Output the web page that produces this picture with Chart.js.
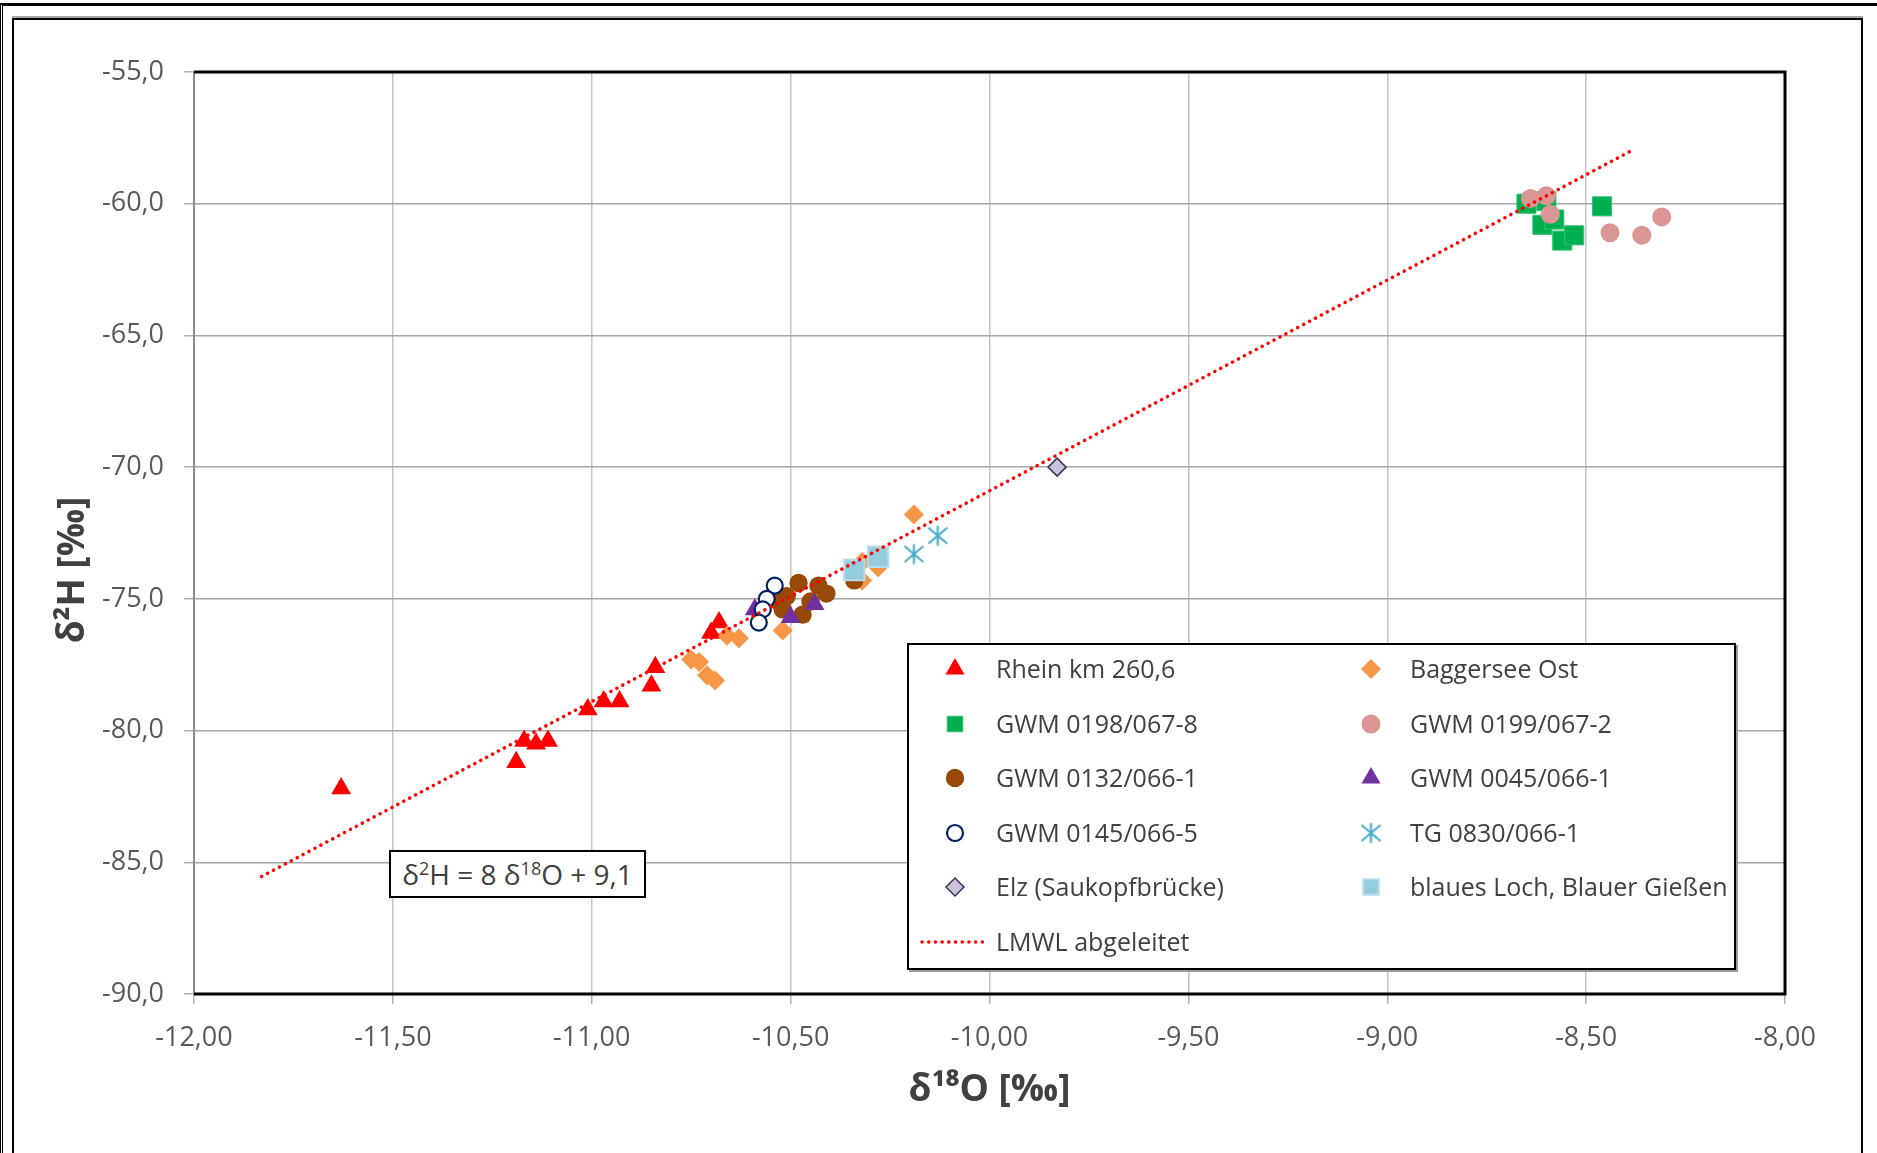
<!DOCTYPE html>
<html>
<head>
<meta charset="utf-8">
<title>δ2H / δ18O</title>
<script src="https://cdn.jsdelivr.net/npm/chart.js@4.4.0/dist/chart.umd.min.js"></script>
<style>
    body {
        margin: 0;
        width: 1877px;
        height: 1153px;
        overflow: hidden;
        position: relative;
        background: #fff;
        font-family: "Open Sans", sans-serif;
    }
    #isoChart {
        position: absolute;
        left: 0;
        top: 0;
        background: #fff;
    }
    .frame-outer {
        position: absolute;
        left: 0;
        top: 3px;
        width: 1877px;
        height: 1160px;
        border-top: 3px solid #000;
        border-left: 3px double #000;
        box-sizing: border-box;
    }
    .frame-inner {
        position: absolute;
        left: 12px;
        top: 18px;
        width: 1851px;
        height: 1160px;
        border: 2px solid #000;
        box-shadow: 0 -2px 0 #a6a6a6;
        box-sizing: border-box;
    }
    #legend {
        position: absolute;
        left: 907px;
        top: 643px;
        width: 829px;
        height: 327px;
        border: 2px solid #000;
        box-shadow: 2px 2px 0 #9a9a9a;
        background: #fff;
        box-sizing: border-box;
    }
    #legend canvas {
        position: absolute;
    }
    #legend span {
        position: absolute;
        font-size: 25px;
        color: #404040;
        line-height: 30px;
        white-space: nowrap;
    }
    .equation {
        position: absolute;
        left: 389px;
        top: 850px;
        width: 257px;
        height: 48px;
        border: 2px solid #000;
        background: #fff;
        box-sizing: border-box;
        font-size: 28px;
        color: #404040;
        line-height: 44px;
        text-align: center;
        white-space: nowrap;
    }
    .equation sup {
        font-size: 18px;
        line-height: 0;
    }
</style>
</head>
<body>
<canvas id="isoChart" width="1877" height="1153"></canvas>
<div class="frame-outer"></div>
<div class="frame-inner"></div>
<div id="legend"></div>
<div class="equation">δ<sup>2</sup>H = 8 δ<sup>18</sup>O + 9,1</div>

<script>
// Achsen
const xTicks = [-12, -11.5, -11, -10.5, -10, -9.5, -9, -8.5, -8];
const xTickLabels = ["-12,00", "-11,50", "-11,00", "-10,50", "-10,00", "-9,50", "-9,00", "-8,50", "-8,00"];
const yTicks = [-90, -85, -80, -75, -70, -65, -60, -55];
const yTickLabels = ["-90,0", "-85,0", "-80,0", "-75,0", "-70,0", "-65,0", "-60,0", "-55,0"];

// Messstellen: δ18O (x) und δ2H (y)
const rheinX = [-11.63, -11.19, -11.17, -11.14, -11.11, -11.01, -10.97, -10.93, -10.85, -10.84, -10.70, -10.68];
const rheinY = [-82.2, -81.2, -80.4, -80.5, -80.4, -79.2, -78.9, -78.9, -78.3, -77.6, -76.3, -75.9];

const baggerseeX = [-10.19, -10.32, -10.28, -10.32, -10.52, -10.66, -10.63, -10.75, -10.73, -10.71, -10.69];
const baggerseeY = [-71.8, -73.6, -73.8, -74.3, -76.2, -76.4, -76.5, -77.3, -77.4, -77.9, -78.1];

const gwm0198X = [-8.65, -8.60, -8.61, -8.58, -8.56, -8.53, -8.46];
const gwm0198Y = [-60.0, -59.9, -60.8, -60.6, -61.4, -61.2, -60.1];

const gwm0199X = [-8.64, -8.60, -8.59, -8.44, -8.36, -8.31];
const gwm0199Y = [-59.8, -59.7, -60.4, -61.1, -61.2, -60.5];

const gwm0132X = [-10.48, -10.43, -10.41, -10.45, -10.47, -10.52, -10.51, -10.53, -10.34];
const gwm0132Y = [-74.4, -74.5, -74.8, -75.1, -75.6, -75.4, -74.9, -75.1, -74.3];

const gwm0045X = [-10.59, -10.50, -10.44];
const gwm0045Y = [-75.4, -75.7, -75.2];

const gwm0145X = [-10.54, -10.56, -10.57, -10.58];
const gwm0145Y = [-74.5, -75.0, -75.4, -75.9];

const tg0830X = [-10.19, -10.13];
const tg0830Y = [-73.3, -72.6];

const elzX = [-9.83];
const elzY = [-70.0];

const blauesLochX = [-10.34, -10.28];
const blauesLochY = [-73.9, -73.4];

// LMWL abgeleitet (Endpunkte der Geraden)
const lmwlX = [-11.83, -8.38];
const lmwlY = [-85.54, -57.94];

function toPoints(xs, ys) {
    return xs.map((x, i) => ({ x: x, y: ys[i] }));
}

// Stern-Marker wie in Excel (senkrecht + Diagonalen)
function makeAsterisk(size, color) {
    const c = document.createElement("canvas");
    c.width = size;
    c.height = size;
    const g = c.getContext("2d");
    const m = size / 2;
    const r = size / 2 - 1.5;
    g.strokeStyle = color;
    g.lineWidth = 2.2;
    g.beginPath();
    g.moveTo(m, m - r);
    g.lineTo(m, m + r);
    g.moveTo(m - r * 0.95, m - r * 0.8);
    g.lineTo(m + r * 0.95, m + r * 0.8);
    g.moveTo(m + r * 0.95, m - r * 0.8);
    g.lineTo(m - r * 0.95, m + r * 0.8);
    g.stroke();
    return c;
}

const asterisk = makeAsterisk(23, "#4bacc6");

const series = [
    { label: "Rhein km 260,6", x: rheinX, y: rheinY, style: "triangle", radius: 11.5, fill: "#ff0000", border: "#ff0000", bw: 0 },
    { label: "Baggersee Ost", x: baggerseeX, y: baggerseeY, style: "rectRot", radius: 10, fill: "#f79646", border: "#f79646", bw: 0 },
    { label: "GWM 0198/067-8", x: gwm0198X, y: gwm0198Y, style: "rect", radius: 13.5, fill: "#00b050", border: "#33c070", bw: 1 },
    { label: "GWM 0199/067-2", x: gwm0199X, y: gwm0199Y, style: "circle", radius: 9.5, fill: "#d99694", border: "#d99694", bw: 0 },
    { label: "GWM 0132/066-1", x: gwm0132X, y: gwm0132Y, style: "circle", radius: 9.2, fill: "#984807", border: "#984807", bw: 0 },
    { label: "GWM 0045/066-1", x: gwm0045X, y: gwm0045Y, style: "triangle", radius: 11.5, fill: "#7030a0", border: "#7030a0", bw: 0 },
    { label: "GWM 0145/066-5", x: gwm0145X, y: gwm0145Y, style: "circle", radius: 8, fill: "#ffffff", border: "#002060", bw: 2.2 },
    { label: "TG 0830/066-1", x: tg0830X, y: tg0830Y, style: asterisk, radius: 11, fill: "#4bacc6", border: "#4bacc6", bw: 0 },
    { label: "Elz (Saukopfbrücke)", x: elzX, y: elzY, style: "rectRot", radius: 9, fill: "#ccc1da", border: "#403152", bw: 1.5 },
    { label: "blaues Loch, Blauer Gießen", x: blauesLochX, y: blauesLochY, style: "rect", radius: 14.5, fill: "#93cddd", border: "#b7dee8", bw: 2 },
];

const datasets = series.map((s, i) => ({
    label: s.label,
    data: toPoints(s.x, s.y),
    pointStyle: s.style,
    pointRadius: s.radius,
    pointBackgroundColor: s.fill,
    pointBorderColor: s.border,
    pointBorderWidth: s.bw,
    showLine: false,
    order: 20 - i,
}));

datasets.push({
    label: "LMWL abgeleitet",
    data: toPoints(lmwlX, lmwlY),
    showLine: true,
    borderColor: "#ff0000",
    borderWidth: 3.5,
    borderDash: [0.1, 6.6],
    borderCapStyle: "round",
    pointRadius: 0,
    order: 1,
});

// Rahmen der Zeichenfläche
const plotFrame = {
    id: "plotFrame",
    beforeDatasetsDraw(chart) {
        const { ctx, chartArea: a } = chart;
        ctx.save();
        ctx.strokeStyle = "#8c8c8c";
        ctx.lineWidth = 2;
        ctx.beginPath();
        ctx.moveTo(a.left, a.top);
        ctx.lineTo(a.left, a.bottom);
        ctx.stroke();
        ctx.strokeStyle = "#000";
        ctx.lineWidth = 3;
        ctx.beginPath();
        ctx.moveTo(a.left, a.top);
        ctx.lineTo(a.right, a.top);
        ctx.lineTo(a.right, a.bottom);
        ctx.lineTo(a.left, a.bottom);
        ctx.stroke();
        ctx.restore();
    },
};

const tickFont = { family: "Open Sans", size: 27 };
const titleFont = { family: "Open Sans", size: 37, weight: "bold" };

new Chart(document.getElementById("isoChart"), {
    type: "scatter",
    data: { datasets: datasets },
    options: {
        responsive: false,
        devicePixelRatio: 1,
        animation: false,
        layout: { padding: { left: 0, top: 72, right: 92, bottom: 0 } },
        plugins: {
            legend: { display: false },
            tooltip: { enabled: false },
        },
        scales: {
            x: {
                type: "linear",
                min: -12,
                max: -8,
                afterBuildTicks: (scale) => {
                    scale.ticks = xTicks.map((v) => ({ value: v }));
                },
                afterFit: (scale) => {
                    scale.height = 159;
                },
                ticks: {
                    font: tickFont,
                    color: "#595959",
                    padding: 18,
                    maxRotation: 0,
                    callback: (value, index) => xTickLabels[index],
                },
                grid: {
                    color: "#c4c4c4",
                    lineWidth: 1.5,
                    tickColor: "#b0b0b0",
                    tickLength: 10,
                },
                border: { display: false },
                title: {
                    display: true,
                    text: "δ¹⁸O [‰]",
                    font: titleFont,
                    color: "#404040",
                    padding: { top: 0, bottom: 40 },
                },
            },
            y: {
                type: "linear",
                min: -90,
                max: -55,
                afterBuildTicks: (scale) => {
                    scale.ticks = yTicks.map((v) => ({ value: v }));
                },
                afterFit: (scale) => {
                    scale.width = 194;
                },
                ticks: {
                    font: tickFont,
                    color: "#595959",
                    padding: 20,
                    callback: (value, index) => yTickLabels[index],
                },
                grid: {
                    color: "#a6a6a6",
                    lineWidth: 1.5,
                    tickColor: "#b0b0b0",
                    tickLength: 10,
                },
                border: { display: false },
                title: {
                    display: true,
                    text: "δ²H [‰]\u2003\u2003",
                    font: titleFont,
                    color: "#404040",
                    padding: { top: 51, bottom: 0 },
                },
            },
        },
    },
    plugins: [plotFrame],
});

// Legende als HTML, Symbole mit Chart.js-Markern gezeichnet
const legend = document.getElementById("legend");
const rowStep = 54.6;

series.forEach((s, i) => {
    const col = i % 2;
    const row = Math.floor(i / 2);
    const cx = col ? 462 : 46;
    const cy = 24 + row * rowStep;

    const c = document.createElement("canvas");
    c.width = 36;
    c.height = 36;
    c.style.left = cx - 18 + "px";
    c.style.top = cy - 18 + "px";
    const g = c.getContext("2d");
    g.fillStyle = s.fill;
    g.strokeStyle = s.border;
    g.lineWidth = s.bw;
    const r = typeof s.style === "string" ? Math.min(s.radius, 11) : s.radius;
    Chart.helpers.drawPoint(g, { pointStyle: s.style, rotation: 0, radius: r, borderWidth: s.bw }, 18, 18);
    legend.appendChild(c);

    const t = document.createElement("span");
    t.textContent = s.label;
    t.style.left = (col ? 501 : 87) + "px";
    t.style.top = cy - 16 + "px";
    legend.appendChild(t);
});

// LMWL in der Legende
{
    const cy = 24 + 5 * rowStep;
    const c = document.createElement("canvas");
    c.width = 70;
    c.height = 12;
    c.style.left = "10px";
    c.style.top = cy - 6 + "px";
    const g = c.getContext("2d");
    g.strokeStyle = "#ff0000";
    g.lineWidth = 3.5;
    g.lineCap = "round";
    g.setLineDash([0.1, 6.6]);
    g.beginPath();
    g.moveTo(3, 6);
    g.lineTo(68, 6);
    g.stroke();
    legend.appendChild(c);

    const t = document.createElement("span");
    t.textContent = "LMWL abgeleitet";
    t.style.left = "87px";
    t.style.top = cy - 16 + "px";
    legend.appendChild(t);
}
</script>
</body>
</html>
